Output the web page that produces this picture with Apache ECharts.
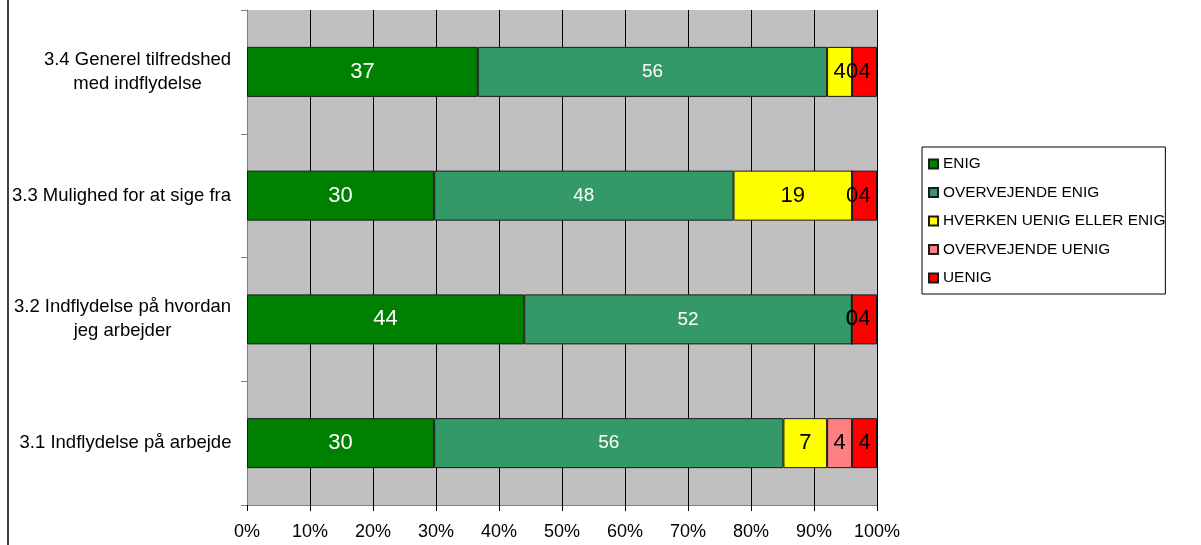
<!DOCTYPE html>
<html>
<head>
<meta charset="utf-8">
<script src="https://cdn.jsdelivr.net/npm/echarts@6/dist/echarts.min.js"></script>
<style>
  html, body { margin: 0; padding: 0; background: #ffffff; }
  #chart { width: 1201px; height: 545px; }
</style>
</head>
<body>
<div id="chart"></div>
<script>
// Questions, bottom to top on the category axis
const categories = [
  '3.1 Indflydelse på arbejde',
  '3.2 Indflydelse på hvordan\njeg arbejder',
  '3.3 Mulighed for at sige fra',
  '3.4 Generel tilfredshed\nmed indflydelse'
];

// Answer shares (percent) per question, same order as categories
const enig              = [30, 44, 30, 37];
const overvejendeEnig   = [56, 52, 48, 56];
const hverken           = [7, 0, 19, 4];
const overvejendeUenig  = [4, 0, 0, 0];
const uenig             = [4, 4, 4, 4];

const seriesNames = ['ENIG', 'OVERVEJENDE ENIG', 'HVERKEN UENIG ELLER ENIG', 'OVERVEJENDE UENIG', 'UENIG'];
const seriesValues = [enig, overvejendeEnig, hverken, overvejendeUenig, uenig];
const seriesColors = ['#008000', '#339966', '#FFFF00', '#FF8080', '#FF0000'];

const xTicks = { min: 0, max: 100, interval: 10 };

const FONT = '"Liberation Sans", Arial, sans-serif';
const CAT_SIZE = 18.5;

// Row totals, so every bar fills 100 %
const totals = categories.map((_, i) => seriesValues.reduce((s, arr) => s + arr[i], 0));

// Measure each category label so a wrapped second line can be centred under the first
const ctx = document.createElement('canvas').getContext('2d');
ctx.font = CAT_SIZE + 'px ' + FONT;
const rich = {};
categories.forEach((c, i) => {
  const w = Math.max(...c.split('\n').map(l => ctx.measureText(l).width));
  rich['c' + i] = { width: Math.ceil(w) + 1, align: 'center', fontSize: CAT_SIZE, fontFamily: FONT, color: '#000', lineHeight: 24 };
});

const labelStyles = [
  { color: '#ffffff', fontSize: 22 },
  { color: '#ffffff', fontSize: 19 },
  { color: '#000000', fontSize: 22 },
  { color: '#000000', fontSize: 22 },
  { color: '#000000', fontSize: 22 }
];

const series = seriesNames.map((name, s) => ({
  name,
  type: 'bar',
  stack: 'all',
  barWidth: 50,
  data: seriesValues[s].map((v, i) => ({ value: v / totals[i] * 100, raw: v })),
  itemStyle: { color: seriesColors[s], borderColor: '#1a1a1a', borderWidth: 1 },
  label: {
    show: true,
    position: 'inside',
    fontFamily: FONT,
    fontSize: labelStyles[s].fontSize,
    color: labelStyles[s].color,
    formatter: p => String(p.data.raw)
  },
  emphasis: { disabled: true }
}));

const chart = echarts.init(document.getElementById('chart'), null, { renderer: 'canvas' });
chart.setOption({
  animation: false,
  backgroundColor: '#ffffff',
  textStyle: { fontFamily: FONT },
  grid: { left: 247, right: 324, top: 10, bottom: 40, show: true, backgroundColor: '#C0C0C0', borderWidth: 0 },
  xAxis: {
    type: 'value',
    min: xTicks.min, max: xTicks.max, interval: xTicks.interval,
    axisLine: { show: true, lineStyle: { color: '#808080', width: 1 } },
    axisTick: { show: true, length: 6, lineStyle: { color: '#000' } },
    axisLabel: { formatter: '{value}%', color: '#000', fontSize: 18, fontFamily: FONT, margin: 18 },
    splitLine: { show: true, lineStyle: { color: '#000', width: 1 } }
  },
  yAxis: {
    type: 'category',
    data: categories,
    axisLine: { show: true, lineStyle: { color: '#808080', width: 1 } },
    axisTick: { show: true, length: 6, lineStyle: { color: '#808080' } },
    axisLabel: {
      margin: 15,
      formatter: (v, i) => v.split('\n').map(l => '{c' + i + '|' + l + '}').join('\n'),
      rich
    },
    splitLine: { show: false }
  },
  legend: {
    orient: 'vertical',
    left: 922, top: 147,
    padding: [9.5, 0, 8.5, 6],
    itemWidth: 9, itemHeight: 9, itemGap: 13.5,
    icon: 'rect',
    borderColor: '#000', borderWidth: 1,
    textStyle: { fontSize: 15.4, fontFamily: FONT, color: '#000' },
    data: seriesNames
  },
  graphic: [{
    type: 'line',
    shape: { x1: 8, y1: 0, x2: 8, y2: 545 },
    style: { stroke: '#404040', lineWidth: 2 }
  }],
  series
});
</script>
</body>
</html>
